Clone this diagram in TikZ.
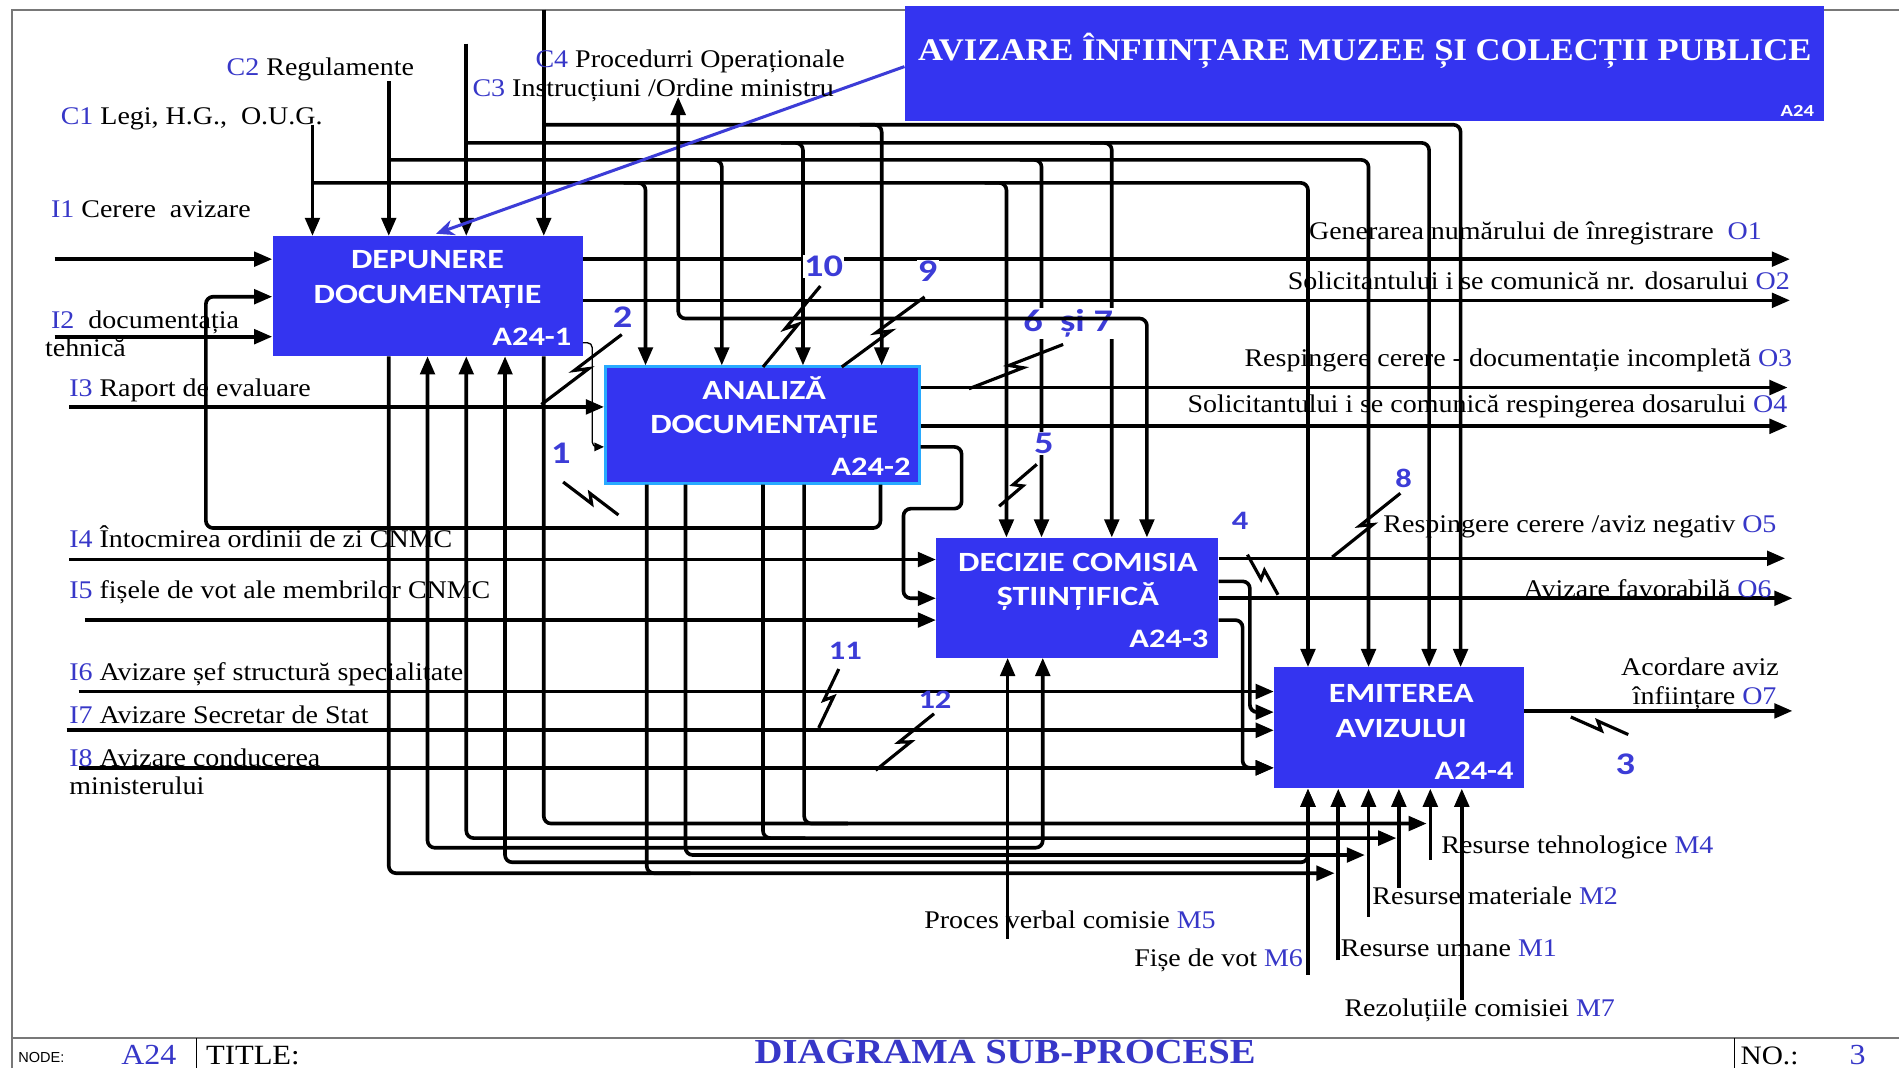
\documentclass[tikz,border=0pt]{standalone}
\usepackage{fontspec}
\setmainfont{Liberation Serif}[FakeStretch=1.1]
\newfontfamily\boxfont{Carlito}[FakeStretch=1.22]
\newfontfamily\smallsans{Liberation Sans}
\usetikzlibrary{arrows.meta,calc}
\definecolor{boxblue}{RGB}{52,52,240}
\definecolor{lblue}{RGB}{55,55,200}
\definecolor{nblue}{RGB}{60,60,215}
\definecolor{edgecyan}{RGB}{40,170,255}
\definecolor{framegray}{RGB}{120,120,120}
\newcommand{\sqg}[2]{\draw[sq] #1 -- ($#1!0.56!#2$) -- ($($#1!0.44!#2$)!6pt!90:#2$) -- ($#2!6pt!-90:#1$);}
\newcommand{\bl}[1]{\textcolor{lblue}{#1}}
\begin{document}
\begin{tikzpicture}[x=1pt,y=-1pt,
  >={Triangle[length=15pt,width=12pt]},
  conn/.style={line width=3pt, rounded corners=6pt},
  arr/.style={conn,->},
  arrb/.style={conn,<->},
  thinarr/.style={line width=1.1pt, rounded corners=4pt, -{Triangle[length=8pt,width=7pt]}},
  sq/.style={line width=2.6pt, line join=miter},
  box/.style={fill=boxblue, inner sep=0pt, draw=none},
  btxt/.style={font=\boxfont\bfseries\fontsize{23}{26}\selectfont, text=white, inner sep=0pt, anchor=base},
  bid/.style={font=\boxfont\bfseries\fontsize{22}{24}\selectfont, text=white, inner sep=0pt, anchor=base east},
  lbl/.style={font=\fontsize{21}{24}\selectfont, inner sep=0pt, anchor=base west},
  lblr/.style={lbl, anchor=base east},
  num/.style={font=\boxfont\bfseries\fontsize{26}{28}\selectfont, text=nblue, inner sep=1pt, fill=white},
  numc/.style={num, fill=none},
  foot/.style={inner sep=0pt, text depth=0pt, anchor=base west}
]
\useasboundingbox (0,0) rectangle (1568,882);
\fill[white] (0,0) rectangle (1568,882);

% frame
\draw[framegray, line width=1.5pt] (10,882) -- (10,8) -- (1568,8);
\draw[framegray, line width=2pt] (10,857) -- (1568,857);
\draw[black, line width=1pt] (162,857) -- (162,882);
\draw[black, line width=1pt] (1432,857) -- (1432,882);

% title box
\node[box, minimum width=759pt, minimum height=95pt] (tb) at (1126.5,52.5) {};
\node[font=\bfseries\fontsize{26}{28}\selectfont, text=white, inner sep=0pt, anchor=base] (tt) at (1127,50) {AVIZARE ÎNFIINȚARE MUZEE ȘI COLECȚII PUBLICE};
\node[font=\boxfont\bfseries\fontsize{14}{16}\selectfont, text=white, inner sep=0pt, anchor=base east] (tid) at (1498,96) {A24};

% boxes
\node[box, minimum width=256pt, minimum height=99pt] (b1) at (353,244.5) {};
\node[box, draw=edgecyan, line width=2.5pt, minimum width=259pt, minimum height=96pt] (b2) at (629.5,351) {};
\node[box, minimum width=233pt, minimum height=99pt] (b3) at (889.5,493.5) {};
\node[box, minimum width=206pt, minimum height=100pt] (b4) at (1155,601) {};

\node[btxt] (b1a) at (353,222) {DEPUNERE};
\node[btxt] (b1b) at (353,251) {DOCUMENTAȚIE};
\node[bid] (b1c) at (472,285) {A24-1};
\node[btxt] (b2a) at (631,330) {ANALIZĂ};
\node[btxt] (b2b) at (631,358) {DOCUMENTAȚIE};
\node[bid] (b2c) at (752,393) {A24-2};
\node[btxt] (b3a) at (890,472) {DECIZIE COMISIA};
\node[btxt] (b3b) at (890,500) {ȘTIINȚIFICĂ};
\node[bid] (b3c) at (998,535) {A24-3};
\node[btxt] (b4a) at (1157,580) {EMITEREA};
\node[btxt] (b4b) at (1157,609) {AVIZULUI};
\node[bid] (b4c) at (1250,644) {A24-4};

% ---------- controls ----------
\coordinate (c1s) at (258,103);
\coordinate (c2s) at (321,67);
\coordinate (c3s) at (385,36);
\coordinate (c4s) at (449,8);
\draw[arr] (c1s) -- (c1s |- b1.north);
\draw[arr] (c2s) -- (c2s |- b1.north);
\draw[arr] (c3s) -- (c3s |- b1.north);
\draw[arr] (c4s) -- (c4s |- b1.north);
\draw[arr] (258,151) -- (1080,151) -- (1080,0 |- b4.north);
\draw[arr] (321,132) -- (1130,132) -- (1130,0 |- b4.north);
\draw[arr] (385,118) -- (1180,118) -- (1180,0 |- b4.north);
\draw[arr] (449,103) -- (1206,103) -- (1206,0 |- b4.north);
\draw[arr] (515,151) -- (533,151) -- (533,0 |- b2.north);
\draw[arr] (578,132) -- (596,132) -- (596,0 |- b2.north);
\draw[arr] (645,118) -- (663,118) -- (663,0 |- b2.north);
\draw[arr] (710,103) -- (728,103) -- (728,0 |- b2.north);
\draw[arr] (813,151) -- (831,151) -- (831,0 |- b3.north);
\draw[arr] (842,132) -- (860,132) -- (860,0 |- b3.north);
\draw[arr] (900,118) -- (918,118) -- (918,0 |- b3.north);

% ---------- inputs ----------
\coordinate (i1s) at (45,214);
\coordinate (i2s) at (45,278);
\coordinate (i3s) at (57,336);
\coordinate (i4s) at (57,462);
\coordinate (i5s) at (70,512);
\coordinate (i6s) at (65,571);
\coordinate (i7s) at (55,603);
\coordinate (i8s) at (65,634);
\draw[arr] (i1s) -- (i1s -| b1.west);
\draw[arr] (i2s) -- (i2s -| b1.west);
\draw[arr] (i3s) -- (i3s -| b2.west);
\draw[arr] (i4s) -- (i4s -| b3.west);
\draw[arr] (i5s) -- (i5s -| b3.west);
\draw[arr] (i6s) -- (i6s -| b4.west);
\draw[arr] (i7s) -- (i7s -| b4.west);
\draw[arr] (i8s) -- (i8s -| b4.west);

% feedback B2 -> B1
\draw[arr] (727,0 |- b2.south) -- (727,436) -- (170,436) -- (170,245) -- (b1.west |- 0,245);
% B1 -> B2 thin
\draw[thinarr] (b1.east |- 0,283) -- (489,283) -- (489,369) -- (b2.west |- 0,369);
% B2 -> B3
\draw[arr] (b2.east |- 0,369) -- (794,369) -- (794,420) -- (746,420) -- (746,494) -- (b3.west |- 0,494);
% B3 -> B4
\draw[arr] (b3.east |- 0,480) -- (1032,480) -- (1032,588) -- (b4.west |- 0,588);
\draw[arr] (b3.east |- 0,512) -- (1026,512) -- (1026,634) -- (b4.west |- 0,634);

% ---------- outputs ----------
\coordinate (o1) at (1478,214);
\coordinate (o2) at (1478,248);
\coordinate (o3) at (1476,320);
\coordinate (o4) at (1476,352);
\coordinate (o5) at (1474,461);
\coordinate (o6) at (1480,494);
\coordinate (o7) at (1480,587);
\draw[arr] (b1.east |- o1) -- (o1);
\draw[arr] (b1.east |- o2) -- (o2);
\draw[arr] (b2.east |- o3) -- (o3);
\draw[arr] (b2.east |- o4) -- (o4);
\draw[arr] (b3.east |- o5) -- (o5);
\draw[arr] (b3.east |- o6) -- (o6);
\draw[arr] (b4.east |- o7) -- (o7);

% ---------- mechanisms ----------
\draw[arrb] (861,0 |- b3.south) -- (861,700) -- (353,700) -- (353,0 |- b1.south);
\draw[arrb] (385,0 |- b1.south) -- (385,692) -- (1153,692);
\draw[arrb] (417,0 |- b1.south) -- (417,712) -- (1080,712) -- (1080,0 |- b4.south);
\draw[arr] (449,0 |- b1.south) -- (449,680) -- (1178,680);
\draw[arr] (321,0 |- b1.south) -- (321,721) -- (1102,721);
\draw[conn] (664,0 |- b2.south) -- (664,680) -- (700,680);
\draw[conn] (630,0 |- b2.south) -- (630,692) -- (665,692);
\draw[arr] (566,0 |- b2.south) -- (566,706) -- (1127,706);
\draw[conn] (534,0 |- b2.south) -- (534,721) -- (570,721);
\coordinate (m5s) at (832,775);
\draw[arr] (m5s) -- (m5s |- b3.south);
\coordinate (m6s) at (1080,805);
\coordinate (m1s) at (1105,793);
\coordinate (m2s) at (1130,757);
\coordinate (m3s) at (1155,733);
\coordinate (m4s) at (1181,710);
\coordinate (m7s) at (1207,826);
\draw[arr] (m6s) -- (m6s |- b4.south);
\draw[arr] (m1s) -- (m1s |- b4.south);
\draw[arr] (m2s) -- (m2s |- b4.south);
\draw[arr] (m3s) -- (m3s |- b4.south);
\draw[arr] (m4s) -- (m4s |- b4.south);
\draw[arr] (m7s) -- (m7s |- b4.south);

% blue pointer from title
\draw[line width=2.5pt, color=nblue, -{Stealth[length=15pt,width=13pt,open]}] (tb.west |- 0,55) -- (360,193);

% squiggles
\sqg{(465,398)}{(507,430)}
\sqg{(447,334)}{(517,281)}
\sqg{(630,303)}{(682,240)}
\sqg{(695,303)}{(767,250)}
\sqg{(800,321)}{(880,290)}
\sqg{(825,418)}{(860,388)}
\sqg{(1030,458)}{(1050,494)}
\sqg{(1100,460)}{(1160,412)}
\sqg{(676,601)}{(698,555)}
\sqg{(723,636)}{(775,594)}
\sqg{(1297,592)}{(1342,612)}

% number labels
\node[num] (n10) at (680,220) {10};
\node[num] (n9) at (766,224) {9};
\node[numc] (n2) at (514,262) {2};
\node[numc] (n1) at (463,374) {1};
\node[num] (n67) at (882,267) {6\ \ și 7};
\draw[conn,<->] (560,80) -- (560,263) -- (947,263) -- (947,0 |- b3.north);
\node[num] (n5) at (862,366) {5};
\node[numc, font=\boxfont\bfseries\fontsize{22}{24}\selectfont] (n4) at (1024,430) {4};
\node[numc, font=\boxfont\bfseries\fontsize{22}{24}\selectfont] (n8) at (1159,395) {8};
\node[numc, font=\boxfont\bfseries\fontsize{22}{24}\selectfont] (n11) at (698,537) {11};
\node[numc, font=\boxfont\bfseries\fontsize{22}{24}\selectfont] (n12) at (772,578) {12};
\node[numc] (n3) at (1342,631) {3};

% control labels
\node[lbl] (lc1) at (50,103) {\bl{C1} Legi, H.G.,\ \ O.U.G.};
\node[lbl] (lc2) at (187,62) {\bl{C2} Regulamente};
\node[lbl] (lc4) at (442,56) {\bl{C4} Procedurri Operaționale};
\node[lbl] (lc3) at (390,80) {\bl{C3} Instrucțiuni /Ordine ministru};

% input labels
\node[lbl] (li1) at (42,180) {\bl{I1} Cerere\ \ avizare};
\node[lbl] (li2) at (42,271) {\bl{I2}\ \ documentația};
\node[lbl] (li2b) at (37,294) {tehnică};
\node[lbl] (li3) at (57,327) {\bl{I3} Raport de evaluare};
\node[lbl] (li4) at (57,452) {\bl{I4} Întocmirea ordinii de zi CNMC};
\node[lbl] (li5) at (57,494) {\bl{I5} fișele de vot ale membrilor CNMC};
\node[lbl] (li6) at (57,562) {\bl{I6} Avizare șef structură specialitate};
\node[lbl] (li7) at (57,597) {\bl{I7} Avizare Secretar de Stat};
\node[lbl] (li8) at (57,633) {\bl{I8} Avizare conducerea};
\node[lbl] (li8b) at (57,656) {ministerului};

% output labels
\node[lblr] (lo1) at (1455,198) {Generarea numărului de înregistrare\ \ \bl{O1}};
\node[lblr] (lo2) at (1478,239) {Solicitantului i se comunică nr. dosarului \bl{O2}};
\node[lblr] (lo3) at (1480,303) {Respingere cerere - documentație incompletă \bl{O3}};
\node[lblr] (lo4) at (1476,341) {Solicitantului i se comunică respingerea dosarului \bl{O4}};
\node[lblr] (lo5) at (1467,440) {Respingere cerere /aviz negativ \bl{O5}};
\node[lblr] (lo6) at (1463,493) {Avizare favorabilă \bl{O6}};
\node[lblr] (lo7a) at (1469,558) {Acordare aviz};
\node[lblr] (lo7b) at (1467,582) {înființare \bl{O7}};

% mechanism labels
\node[lbl] (lm4) at (1190,705) {Resurse tehnologice \bl{M4}};
\node[lbl] (lm2) at (1133,747) {Resurse materiale \bl{M2}};
\node[lbl] (lm1) at (1107,790) {Resurse umane \bl{M1}};
\node[lbl] (lm7) at (1110,839) {Rezoluțiile comisiei \bl{M7}};
\node[lblr] (lm6) at (1076,798) {Fișe de vot \bl{M6}};
\node[lbl] (lm5) at (763,767) {Proces verbal comisie \bl{M5}};

% bottom bar
\node[foot, font=\smallsans\fontsize{12}{14}\selectfont] (fnode) at (15,877) {NODE:};
\node[foot, font=\fontsize{24}{26}\selectfont, text=lblue] (fa24) at (100,879) {A24};
\node[foot, font=\fontsize{23}{25}\selectfont] (ftitle) at (170,879) {TITLE:};
\node[foot, font=\bfseries\fontsize{29}{31}\selectfont, text=lblue, anchor=base] (fdiag) at (830,878) {DIAGRAMA SUB-PROCESE};
\node[foot, font=\fontsize{22}{24}\selectfont] (fno) at (1437,879) {NO.:};
\node[foot, font=\fontsize{24}{26}\selectfont, text=lblue] (fnum) at (1527,879) {3};
\end{tikzpicture}
\end{document}
